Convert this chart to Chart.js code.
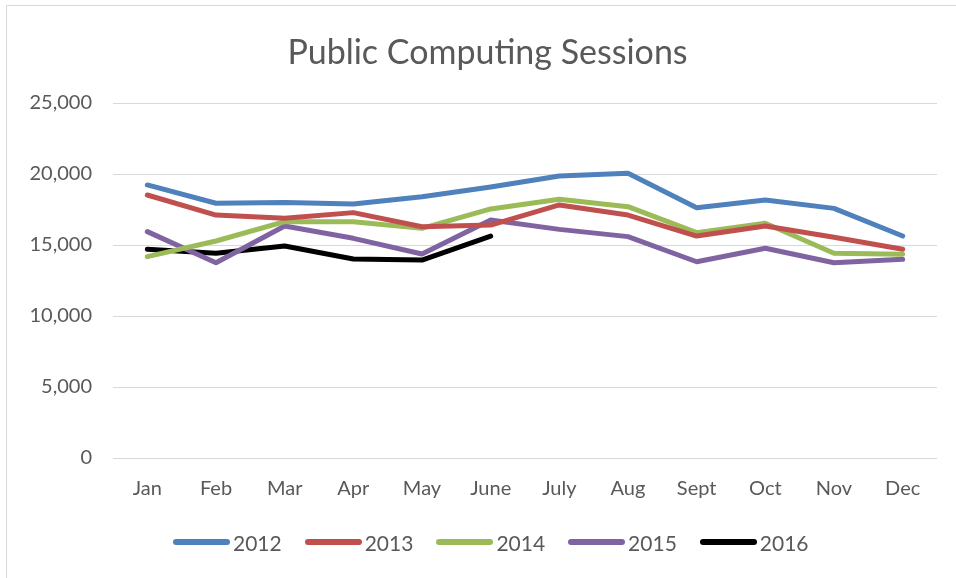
<!DOCTYPE html>
<html>
<head>
<meta charset="utf-8">
<script src="https://cdn.jsdelivr.net/npm/chart.js@4"></script>
<style>
    body { margin: 0; background: #fff; }
    #wrap { position: relative; width: 956px; height: 578px; }
    #frame { position: absolute; left: 6px; top: 5px; right: 0; bottom: 0; border-left: 1px solid #d9d9d9; border-top: 1px solid #d9d9d9; }
    #title { position: absolute; left: 0; top: 30px; width: 975px; height: 41px; line-height: 41px; text-align: center; font-family: Lato, sans-serif; font-size: 34px; color: #595959; }
    #legend { position: absolute; left: 0; top: 530px; width: 956px; height: 24px; font-family: Lato, sans-serif; font-size: 21px; color: #595959; }
    .item { position: absolute; top: 0; height: 24px; display: flex; align-items: center; }
    .mark { width: 57px; height: 6px; border-radius: 3px; margin-right: 3px; }
</style>
</head>
<body>
<div id="wrap">
    <div id="frame"></div>
    <canvas id="sessionsChart" width="956" height="578"></canvas>
    <div id="title">Public Computing Sessions</div>
    <div id="legend"></div>
</div>
<script>
const months = ["Jan", "Feb", "Mar", "Apr", "May", "June", "July", "Aug", "Sept", "Oct", "Nov", "Dec"];
const yearLabels = ["2012", "2013", "2014", "2015", "2016"];
const yearColors = ["#4f81bd", "#c0504d", "#9bbb59", "#8064a2", "#000000"];

const sessions2012 = [19230, 17940, 18000, 17890, 18400, 19080, 19860, 20050, 17630, 18170, 17580, 15630];
const sessions2013 = [18520, 17110, 16880, 17280, 16290, 16400, 17820, 17110, 15630, 16340, 15540, 14700];
const sessions2014 = [14180, 15280, 16640, 16640, 16170, 17540, 18220, 17700, 15870, 16530, 14420, 14350];
const sessions2015 = [15940, 13750, 16340, 15470, 14370, 16760, 16100, 15590, 13820, 14770, 13750, 13990];
const sessions2016 = [14700, 14420, 14930, 14010, 13940, 15630, null, null, null, null, null, null];

const yearData = [sessions2012, sessions2013, sessions2014, sessions2015, sessions2016];
const textColor = '#595959';
const gridColor = '#d9d9d9';

const datasets = yearLabels.map((label, i) => ({
    label: label,
    data: yearData[i],
    borderColor: yearColors[i],
    backgroundColor: yearColors[i],
    borderWidth: 5,
    borderCapStyle: 'round',
    borderJoinStyle: 'round',
    pointRadius: 0,
    tension: 0,
    fill: false,
}));

const ctx = document.getElementById('sessionsChart').getContext('2d');
const sessionsChart = new Chart(ctx, {
    type: 'line',
    data: { labels: months, datasets: datasets },
    options: {
        responsive: false,
        animation: false,
        layout: { padding: { left: 0, right: 19, top: 103, bottom: 0 } },
        scales: {
            x: {
                offset: true,
                grid: { display: false, drawTicks: false },
                border: { display: false },
                ticks: { color: textColor, padding: 19, font: { family: 'Lato', size: 20 } },
                afterFit: (scale) => { scale.height = 120; },
            },
            y: {
                min: 0,
                max: 25000,
                grid: { color: gridColor, lineWidth: 1, drawTicks: false },
                border: { display: false },
                ticks: { stepSize: 5000, color: textColor, padding: 21, font: { family: 'Lato', size: 20 } },
                afterFit: (scale) => { scale.width = 113; },
            },
        },
        plugins: {
            legend: { display: false },
            tooltip: { enabled: false },
            title: { display: false },
        },
    },
});

// legend built from the same series names/colours
const legendEl = document.getElementById('legend');
yearLabels.forEach((label, i) => {
    const item = document.createElement('div');
    item.className = 'item';
    item.style.left = (173 + i * 131.7) + 'px';
    const mark = document.createElement('span');
    mark.className = 'mark';
    mark.style.background = yearColors[i];
    const txt = document.createElement('span');
    txt.textContent = label;
    item.appendChild(mark);
    item.appendChild(txt);
    legendEl.appendChild(item);
});
</script>
</body>
</html>
